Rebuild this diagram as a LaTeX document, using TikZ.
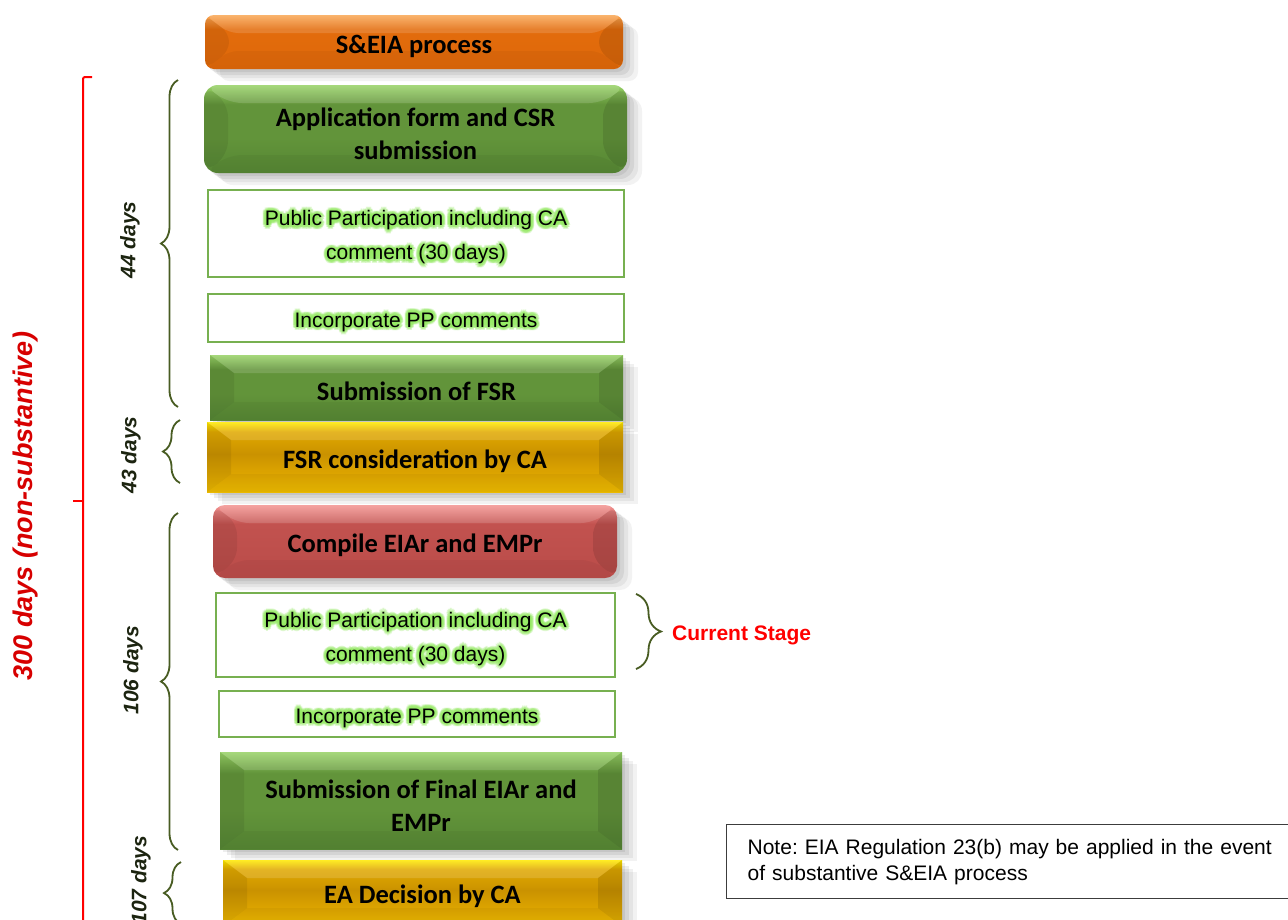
\documentclass[tikz,border=0pt]{standalone}
\usepackage{fontspec}
\setmainfont{Liberation Sans}
\newfontfamily\calibfont{Carlito}
\usetikzlibrary{shadows,decorations.pathreplacing,calc}
\frenchspacing

% palette
\definecolor{gTop}{RGB}{152,210,102}
\definecolor{gMid}{RGB}{98,148,58}
\definecolor{gBot}{RGB}{86,134,52}
\definecolor{oTop}{RGB}{250,168,86}
\definecolor{oMid}{RGB}{227,108,12}
\definecolor{oBot}{RGB}{222,104,10}
\definecolor{rTop}{RGB}{244,148,146}
\definecolor{rMid}{RGB}{194,82,79}
\definecolor{rBot}{RGB}{186,76,73}
\definecolor{yTop}{RGB}{255,234,0}
\definecolor{yUp}{RGB}{224,168,0}
\definecolor{yMid}{RGB}{202,146,0}
\definecolor{yBot}{RGB}{236,186,0}
\definecolor{boxline}{RGB}{119,176,80}
\definecolor{glowgreen}{RGB}{150,235,100}
\definecolor{bracegreen}{RGB}{72,92,34}
\definecolor{daytext}{RGB}{28,36,16}
\definecolor{spanred}{RGB}{215,0,0}
\definecolor{notefr}{RGB}{60,60,60}

% vertical shadings for the bevelled stage boxes (25bp = bottom edge, 75bp = top edge)
\pgfdeclareverticalshading{greenbev}{100bp}{color(0bp)=(gBot); color(25bp)=(gBot); color(45bp)=(gMid); color(64bp)=(gMid); color(75bp)=(gTop); color(100bp)=(gTop)}
\pgfdeclareverticalshading{orangebev}{100bp}{color(0bp)=(oBot); color(25bp)=(oBot); color(62bp)=(oMid); color(75bp)=(oTop); color(100bp)=(oTop)}
\pgfdeclareverticalshading{redbev}{100bp}{color(0bp)=(rBot); color(25bp)=(rBot); color(62bp)=(rMid); color(75bp)=(rTop); color(100bp)=(rTop)}
\pgfdeclareverticalshading{yellowbev}{100bp}{color(0bp)=(yBot); color(25bp)=(yBot); color(36bp)=(yUp); color(52bp)=(yMid); color(68bp)=(yUp); color(75bp)=(yTop); color(100bp)=(yTop)}

% light and dark facets of the bevel, drawn inside the box outline
\newcommand\bevelfacets{%
  \path (path picture bounding box.north west) coordinate (bNW)
        (path picture bounding box.north east) coordinate (bNE)
        (path picture bounding box.south west) coordinate (bSW)
        (path picture bounding box.south east) coordinate (bSE);
  \path ([shift={(24pt,-18pt)}]bNW) coordinate (iNW)
        ([shift={(-24pt,-18pt)}]bNE) coordinate (iNE)
        ([shift={(24pt,18pt)}]bSW) coordinate (iSW)
        ([shift={(-24pt,18pt)}]bSE) coordinate (iSE);
  \fill[white, opacity=.14] (bNW) -- (bNE) -- (iNE) -- (iNW) -- cycle;
  \fill[black, opacity=.07] (bNW) -- (iNW) -- (iSW) -- (bSW) -- cycle;
  \fill[black, opacity=.10] (bNE) -- (iNE) -- (iSE) -- (bSE) -- cycle;
  \fill[black, opacity=.04] (bSW) -- (iSW) -- (iSE) -- (bSE) -- cycle;
}

% text with a soft green halo, centred on a box
\newcommand\glowlabel[3]{%
  \foreach \gr/\gi in {1.3/a,2.6/b,3.6/c}{
    \foreach \ga in {0,30,...,330}{
      \node[glowcopy] (#1-\gi\ga) at ([shift={(\ga:\gr pt)}]$(#2.center)+(0,4)$) {#3};
    }
  }
  \node[plaintext] (#1) at ($(#2.center)+(0,4)$) {#3};
}

\tikzset{
  softshadow/.style={
    general shadow={fill=black, opacity=.05, shadow xshift=15pt, shadow yshift=-12pt},
    general shadow={fill=black, opacity=.06, shadow xshift=11pt, shadow yshift=-9pt},
    general shadow={fill=black, opacity=.07, shadow xshift=7pt, shadow yshift=-6pt},
    general shadow={fill=black, opacity=.07, shadow xshift=3pt, shadow yshift=-3pt}},
  stagebox/.style={inner sep=0pt, shade, softshadow, path picture={\bevelfacets}},
  stagetext/.style={inner sep=0pt, align=center, text=black,
    font=\calibfont\bfseries\fontsize{26.5}{33}\selectfont},
  greenfill/.style={shading=greenbev},
  orangefill/.style={shading=orangebev},
  redfill/.style={shading=redbev},
  yellowfill/.style={shading=yellowbev},
  stepbox/.style={draw=boxline, line width=2pt, fill=white, inner sep=0pt},
  glowcopy/.style={inner sep=0pt, align=center, font=\fontsize{21}{34}\selectfont,
    text=glowgreen, text opacity=.28},
  plaintext/.style={inner sep=0pt, align=center, font=\fontsize{21}{34}\selectfont, text=black},
  dayslabel/.style={rotate=90, inner sep=0pt, text=daytext,
    font=\bfseries\itshape\fontsize{21}{25}\selectfont},
  stagebrace/.style={draw=bracegreen, line width=1.8pt, decorate,
    decoration={brace, amplitude=#1}},
  stagebrace/.default=17pt,
}

\begin{document}
\begin{tikzpicture}[x=1pt, y=-1pt]
\useasboundingbox (0,0) rectangle (1288,919);
\clip (0,0) rectangle (1288,919);

% ---- process column ----
\node[stagebox, orangefill, rounded corners=9pt, minimum width=418, minimum height=54]
  (seia) at (414,42) {};
\node[stagetext] (seia-t) at ($(seia.center)+(0,4)$) {S\&EIA process};

\node[stagebox, greenfill, rounded corners=14pt, minimum width=423, minimum height=88]
  (app) at (415.5,129) {};
\node[stagetext] (app-t) at ($(app.center)+(0,5)$) {Application form and CSR\\submission};

\node[stepbox, minimum width=416, minimum height=87] (pp1) at (416,233.5) {};
\glowlabel{pp1t}{pp1}{Public Participation including CA\\comment (30 days)}
\node[stepbox, minimum width=416, minimum height=48] (inc1) at (416,318) {};
\glowlabel{inc1t}{inc1}{Incorporate PP comments}

\node[stagebox, greenfill, minimum width=413, minimum height=65]
  (fsr) at (416.5,387.5) {};
\node[stagetext] (fsr-t) at ($(fsr.center)+(0,4)$) {Submission of FSR};
\node[stagebox, yellowfill, minimum width=416, minimum height=70]
  (fsrca) at (415,457) {};
\node[stagetext] (fsrca-t) at ($(fsrca.center)+(0,4)$) {FSR consideration by CA};

\node[stagebox, redfill, rounded corners=12pt, minimum width=404, minimum height=73]
  (compile) at (415,541.5) {};
\node[stagetext] (compile-t) at ($(compile.center)+(0,4)$) {Compile EIAr and EMPr};

\node[stepbox, minimum width=399, minimum height=84] (pp2) at (415.5,635) {};
\glowlabel{pp2t}{pp2}{Public Participation including CA\\comment (30 days)}
\node[stepbox, minimum width=396, minimum height=46] (inc2) at (417,714) {};
\glowlabel{inc2t}{inc2}{Incorporate PP comments}

\node[stagebox, greenfill, minimum width=402, minimum height=97]
  (final) at (421,800.5) {};
\node[stagetext] (final-t) at ($(final.center)+(0,5)$) {Submission of Final EIAr and\\EMPr};
\node[stagebox, yellowfill, minimum width=399, minimum height=66]
  (ea) at (422.5,893) {};
\node[stagetext] (ea-t) at ($(ea.center)+(0,3)$) {EA Decision by CA};

% ---- duration braces ----
\coordinate (b44t) at (178,80);   \coordinate (b44b) at (178,407);
\coordinate (b43t) at (180,420);  \coordinate (b43b) at (180,483);
\coordinate (b106t) at (178,513); \coordinate (b106b) at (178,850);
\coordinate (b107t) at (181,862); \coordinate (b107b) at (181,924);
\draw[stagebrace] (b44b) -- (b44t);
\draw[stagebrace] (b43b) -- (b43t);
\draw[stagebrace] (b106b) -- (b106t);
\draw[stagebrace] (b107b) -- (b107t);

\node[dayslabel] (d44) at (130,240) {44 days};
\node[dayslabel] (d43) at (131,455) {43 days};
\node[dayslabel] (d106) at (133,670) {106 days};
\node[dayslabel] (d107) at (141,880) {107 days};

% ---- overall span ----
\coordinate (spTop) at (92,77);
\coordinate (spCorner) at (83,77);
\coordinate (spEnd) at (83,930);
\coordinate (spMid) at (83,501);
\coordinate (spTick) at (73,501);
\draw[red, line width=2pt, rounded corners=2pt] (spTop) -- (spCorner) -- (spEnd);
\draw[red, line width=2pt] (spMid) -- (spTick);
\node[rotate=90, inner sep=0pt, text=spanred,
  font=\bfseries\itshape\fontsize{27}{32}\selectfont] (span) at (26,506)
  {300 days (non-substantive)};

% ---- current stage marker ----
\coordinate (csT) at (636,594); \coordinate (csB) at (636,669);
\draw[stagebrace=25pt] (csT) -- (csB);
\node[anchor=west, inner sep=0pt, text=red, font=\bfseries\fontsize{21}{25}\selectfont]
  (cs) at (672,635) {Current Stage};

% ---- note ----
\node[draw=notefr, line width=1.3pt, anchor=north west, minimum height=74,
  text width=560pt, inner xsep=21pt, align=left,
  font=\fontsize{21}{26}\selectfont] (note) at (726,824)
  {Note: EIA Regulation 23(b) may be applied in the event\\of substantive S\&EIA process};
\end{tikzpicture}
\end{document}
